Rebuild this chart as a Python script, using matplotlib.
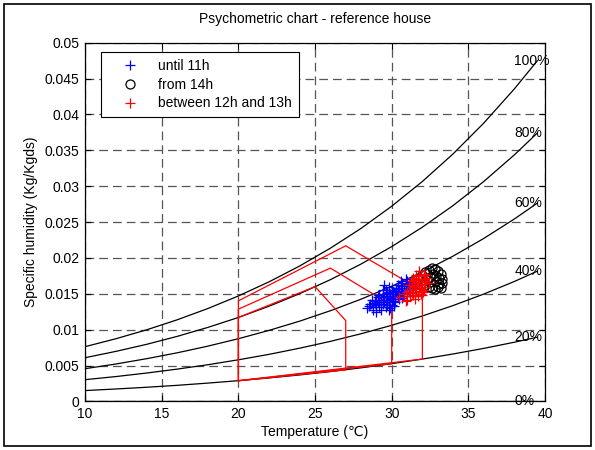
import matplotlib
matplotlib.use("Agg")
import matplotlib.pyplot as plt
from matplotlib.patches import Rectangle

plt.rcParams['font.family'] = ['Liberation Sans', 'DejaVu Sans']

# Relative-humidity curves (temperature in degC, specific humidity)
temps = [10, 12, 14, 16, 18, 20, 22, 24, 26, 28, 30, 32, 34, 36, 38, 39.5]
rh100 = [0.00763, 0.00873, 0.00997, 0.01137, 0.01294, 0.01470, 0.01667, 0.01888,
         0.02136, 0.02412, 0.02721, 0.03066, 0.03450, 0.03879, 0.04357, 0.04749]
rh80 = [0.00609, 0.00697, 0.00795, 0.00906, 0.01031, 0.01170, 0.01327, 0.01502,
        0.01697, 0.01915, 0.02158, 0.02429, 0.02730, 0.03065, 0.03437, 0.03742]
rh60 = [0.00456, 0.00521, 0.00595, 0.00677, 0.00770, 0.00874, 0.00990, 0.01119,
        0.01264, 0.01425, 0.01605, 0.01804, 0.02025, 0.02271, 0.02543, 0.02765]
rh40 = [0.00303, 0.00346, 0.00395, 0.00450, 0.00511, 0.00580, 0.00656, 0.00742,
        0.00837, 0.00943, 0.01061, 0.01191, 0.01336, 0.01496, 0.01672, 0.01816]
rh20 = [0.00151, 0.00173, 0.00197, 0.00224, 0.00255, 0.00289, 0.00327, 0.00369,
        0.00416, 0.00468, 0.00526, 0.00590, 0.00661, 0.00739, 0.00825, 0.00895]
rh0 = [0.0] * 16
curve_labels = ['100%', '80%', '60%', '40%', '20%', '0%']

# Comfort-zone polygons
zone1_t = [20, 20, 25, 27, 27, 20]
zone1_w = [0.00288, 0.01170, 0.01600, 0.01127, 0.00440, 0.00288]
zone2_t = [20, 20, 26, 30, 30, 20]
zone2_w = [0.00288, 0.01286, 0.01858, 0.01340, 0.00526, 0.00288]
zone3_t = [20, 20, 27, 32, 32, 20]
zone3_w = [0.00288, 0.01402, 0.02169, 0.01540, 0.00590, 0.00288]

# Measurements
blue_t = [28.4, 28.6, 28.8, 28.9, 29.0, 29.1, 29.2, 29.3, 29.4, 29.5, 29.6, 29.7, 29.8, 29.9,
          30.0, 30.1, 30.2, 30.3, 30.4, 30.5, 30.6, 30.7, 30.8, 30.9, 31.0, 31.1, 31.2, 31.3,
          29.0, 29.3, 29.6, 29.9, 30.2, 30.5, 30.8, 31.1, 29.4, 29.8, 30.0, 30.3, 30.6, 29.2,
          28.7, 29.5, 30.9, 31.4,
          28.5, 28.8, 29.1, 29.4, 29.7, 30.0, 30.3, 30.6, 30.9, 31.2, 28.9, 29.2, 29.5, 29.8,
          30.1, 30.4, 30.7, 31.0, 31.3, 29.6, 29.9, 30.2, 30.5, 30.8, 29.0, 29.7, 30.4, 31.1,
          29.3, 30.0, 30.7, 29.85, 30.15, 29.45]
blue_w = [0.0130, 0.0136, 0.0127, 0.0140, 0.0134, 0.0145, 0.0131, 0.0142, 0.0150, 0.0138,
          0.0147, 0.0135, 0.0153, 0.0144, 0.0156, 0.0140, 0.0150, 0.0158, 0.0146, 0.0154,
          0.0161, 0.0150, 0.0158, 0.0164, 0.0155, 0.0162, 0.0157, 0.0166, 0.0125, 0.0128,
          0.0132, 0.0130, 0.0138, 0.0143, 0.0147, 0.0152, 0.0155, 0.0160, 0.0143, 0.0152,
          0.0168, 0.0148, 0.0142, 0.0162, 0.0170, 0.0160,
          0.0133, 0.0132, 0.0139, 0.0136, 0.0141, 0.0147, 0.0154, 0.0151, 0.0161, 0.0165,
          0.0137, 0.0148, 0.0145, 0.0141, 0.0153, 0.0162, 0.0165, 0.0168, 0.0162, 0.0156,
          0.0150, 0.0145, 0.0149, 0.0153, 0.0142, 0.0151, 0.0157, 0.0158, 0.0136, 0.0135,
          0.0144, 0.0127, 0.0133, 0.0146]
black_t = [31.7, 32.0, 32.2, 32.4, 32.6, 32.8, 33.0, 33.2, 33.3, 32.1, 32.3, 32.5, 32.7, 32.9,
           33.1, 33.3, 32.4, 32.6, 32.8, 33.0, 33.2, 32.2, 32.5, 32.9, 33.1]
black_w = [0.0170, 0.0176, 0.0180, 0.0183, 0.0186, 0.0185, 0.0182, 0.0177, 0.0171, 0.0165,
           0.0170, 0.0174, 0.0177, 0.0175, 0.0172, 0.0165, 0.0160, 0.0158, 0.0157, 0.0160,
           0.0158, 0.0162, 0.0166, 0.0168, 0.0163]
red_t = [30.5, 30.8, 31.0, 31.2, 31.3, 31.4, 31.5, 31.6, 31.7, 31.8, 31.9, 32.0, 32.1, 32.2,
         32.3, 31.5, 31.7, 31.9, 32.1, 31.3, 31.6, 31.8, 32.0, 32.2, 31.1, 30.9, 31.4, 32.4,
         31.2, 31.5, 31.8, 32.1, 31.6, 31.9, 32.2, 31.0, 31.35, 31.75, 32.05, 31.45]
red_w = [0.0145, 0.0150, 0.0142, 0.0155, 0.0160, 0.0148, 0.0165, 0.0152, 0.0170, 0.0158,
         0.0175, 0.0163, 0.0178, 0.0168, 0.0172, 0.0143, 0.0147, 0.0150, 0.0155, 0.0168,
         0.0176, 0.0182, 0.0148, 0.0160, 0.0162, 0.0140, 0.0172, 0.0165,
         0.0147, 0.0157, 0.0166, 0.0170, 0.0161, 0.0154, 0.0176, 0.0153, 0.0151, 0.0162,
         0.0152, 0.0169]

xticks = [10, 15, 20, 25, 30, 35, 40]
yticks = [0, 0.005, 0.01, 0.015, 0.02, 0.025, 0.03, 0.035, 0.04, 0.045, 0.05]
ytick_labels = ['0', '0.005', '0.01', '0.015', '0.02', '0.025', '0.03', '0.035', '0.04', '0.045', '0.05']

FS = 10

fig = plt.figure(figsize=(5.95, 4.5), dpi=100)
ax = fig.add_axes([0.143, 0.108, 0.773, 0.797])

for curve, lab in zip([rh100, rh80, rh60, rh40, rh20, rh0], curve_labels):
    ax.plot(temps, curve, color='black', lw=0.9)
    ax.text(38.0, curve[-1], lab, fontsize=FS, ha='left', va='center')

for zt, zw in [(zone1_t, zone1_w), (zone2_t, zone2_w), (zone3_t, zone3_w)]:
    ax.plot(zt, zw, color='red', lw=0.9)

h1, = ax.plot(blue_t, blue_w, '+', color='blue', ms=6.5, mew=0.9, label='until 11h')
h2, = ax.plot(black_t, black_w, 'o', mfc='none', mec='black', ms=6.5, mew=0.9, label='from 14h')
h3, = ax.plot(red_t, red_w, '+', color='red', ms=6.5, mew=0.9, label='between 12h and 13h')

ax.set_xlim(10, 40)
ax.set_ylim(0, 0.05)
ax.set_xticks(xticks)
ax.set_xticklabels([str(t) for t in xticks])
ax.set_yticks(yticks)
ax.set_yticklabels(ytick_labels)
ax.tick_params(direction='in', top=True, right=True, labelsize=FS, length=4, width=0.8, pad=4)
ax.grid(True, color='#555555', linestyle=(0, (7, 4)), lw=0.9)
for s in ax.spines.values():
    s.set_linewidth(0.9)

ax.set_title('Psychometric chart - reference house', fontsize=FS, pad=14)
ax.set_xlabel('Temperature (\u2103)', fontsize=FS, labelpad=3)
ax.set_ylabel('Specific humidity (Kg/Kgds)', fontsize=FS, labelpad=5)

leg = ax.legend(handles=[h1, h2, h3], loc='upper left', bbox_to_anchor=(0.035, 0.975),
                fontsize=FS, frameon=True, fancybox=False, edgecolor='black',
                framealpha=1, borderpad=0.5, handlelength=3.2, handletextpad=0.4,
                labelspacing=0.35, borderaxespad=0)
leg.get_frame().set_linewidth(0.8)

fig.patches.append(Rectangle((0.007, 0.009), 0.986, 0.982, transform=fig.transFigure,
                             fill=False, edgecolor='black', lw=1.2))

fig.savefig('out.png', dpi=100)
